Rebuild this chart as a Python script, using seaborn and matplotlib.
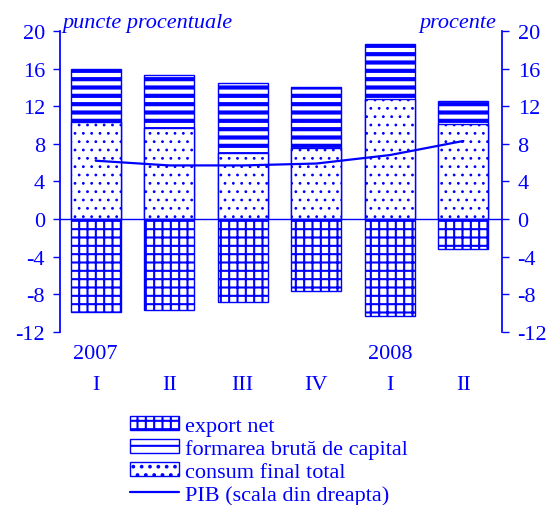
import numpy as np
import pandas as pd
import matplotlib.pyplot as plt
import seaborn as sns
from matplotlib.patches import Patch
from matplotlib.lines import Line2D

# Data
trimestre = ['I', 'II', 'III', 'IV', 'I ', 'II ']
ani = ['2007', '', '', '', '2008', '']
consum_final = [10.3, 9.7, 7.0, 7.5, 12.8, 10.1]
formare_capital = [5.7, 5.6, 7.5, 6.5, 5.8, 2.5]
export_net = [-9.9, -9.7, -8.8, -7.6, -10.3, -3.2]
pib = [6.2, 5.7, 5.7, 5.9, 6.8, 8.3]

blue = '#0000ff'
sns.set_theme(style='white')
plt.rcParams['font.family'] = ['Liberation Serif', 'DejaVu Serif']
plt.rcParams['axes.unicode_minus'] = False
plt.rcParams['hatch.color'] = blue
plt.rcParams['hatch.linewidth'] = 1.5

FS = 16

df = pd.DataFrame({'trim': trimestre, 'consum': consum_final,
                   'formare': formare_capital, 'export': export_net})
df['total'] = df['consum'] + df['formare']

fig = plt.figure(figsize=(5.49, 5.06), dpi=100)
ax = fig.add_axes([0.11, 0.342, 0.805, 0.595])

common = dict(color='white', edgecolor=blue, linewidth=1.0, width=0.68, ax=ax)
sns.barplot(data=df, x='trim', y='total', hatch='--', **common)
sns.barplot(data=df, x='trim', y='consum', hatch='..', **common)
sns.barplot(data=df, x='trim', y='export', hatch='++', **common)


def hatch_lw(patches, lw):
    for p in patches:
        if hasattr(p, 'set_hatch_linewidth'):
            p.set_hatch_linewidth(lw)


hatch_lw(ax.patches[0:6], 3.0)
hatch_lw(ax.patches[6:12], 0.8)
hatch_lw(ax.patches[12:18], 1.5)

ax.axhline(0, color=blue, lw=1)
ax.set_xlim(-0.48, 5.53)
ax.set_ylim(-12, 20)
ax.set_yticks(range(-12, 21, 4))
ax.set_xlabel('')
ax.set_ylabel('')
ax.set_xticks(range(6))
ax.set_xticklabels([])
ax.tick_params(axis='x', length=0)
ax.tick_params(axis='y', colors=blue, labelsize=FS, direction='out',
               length=5, width=1, left=True, pad=6)
for s in ['top', 'bottom', 'right']:
    ax.spines[s].set_visible(False)
ax.spines['left'].set_color(blue)

ax2 = ax.twinx()
sns.lineplot(x=np.arange(6), y=pib, color=blue, lw=1.6, ax=ax2)
ax2.set_ylim(-12, 20)
ax2.set_yticks(range(-12, 21, 4))
ax2.tick_params(axis='y', colors=blue, labelsize=FS, direction='out',
                length=5, width=1, right=True, pad=6)
for s in ['top', 'bottom', 'left']:
    ax2.spines[s].set_visible(False)
ax2.spines['right'].set_color(blue)

for i, (t, a) in enumerate(zip(trimestre, ani)):
    ax.text(i, -13.3, a, ha='center', va='top', color=blue, fontsize=FS)
    ax.text(i, -16.6, t.strip(), ha='center', va='top', color=blue, fontsize=FS)
ax.text(-0.45, 20.4, 'puncte procentuale', ha='left', va='baseline',
        style='italic', color=blue, fontsize=FS)
ax.text(5.44, 20.4, 'procente', ha='right', va='baseline',
        style='italic', color=blue, fontsize=FS)

handles = [Patch(facecolor='white', edgecolor=blue, hatch='++', lw=1.0),
           Patch(facecolor='white', edgecolor=blue, hatch='--', lw=1.0),
           Patch(facecolor='white', edgecolor=blue, hatch='..', lw=1.0),
           Line2D([0], [0], color=blue, lw=1.6)]
hatch_lw(handles[1:2], 3.0)
hatch_lw(handles[2:3], 0.8)
labels = ['export net', 'formarea brută de capital', 'consum final total',
          'PIB (scala din dreapta)']
leg = fig.legend(handles, labels, loc='upper left', bbox_to_anchor=(0.237, 0.176),
                 frameon=False, fontsize=FS, handlelength=2.2, handleheight=0.6,
                 handletextpad=0.25, labelspacing=0.14, borderaxespad=0,
                 borderpad=0)
for t in leg.get_texts():
    t.set_color(blue)

fig.savefig('out.png', dpi=100)
